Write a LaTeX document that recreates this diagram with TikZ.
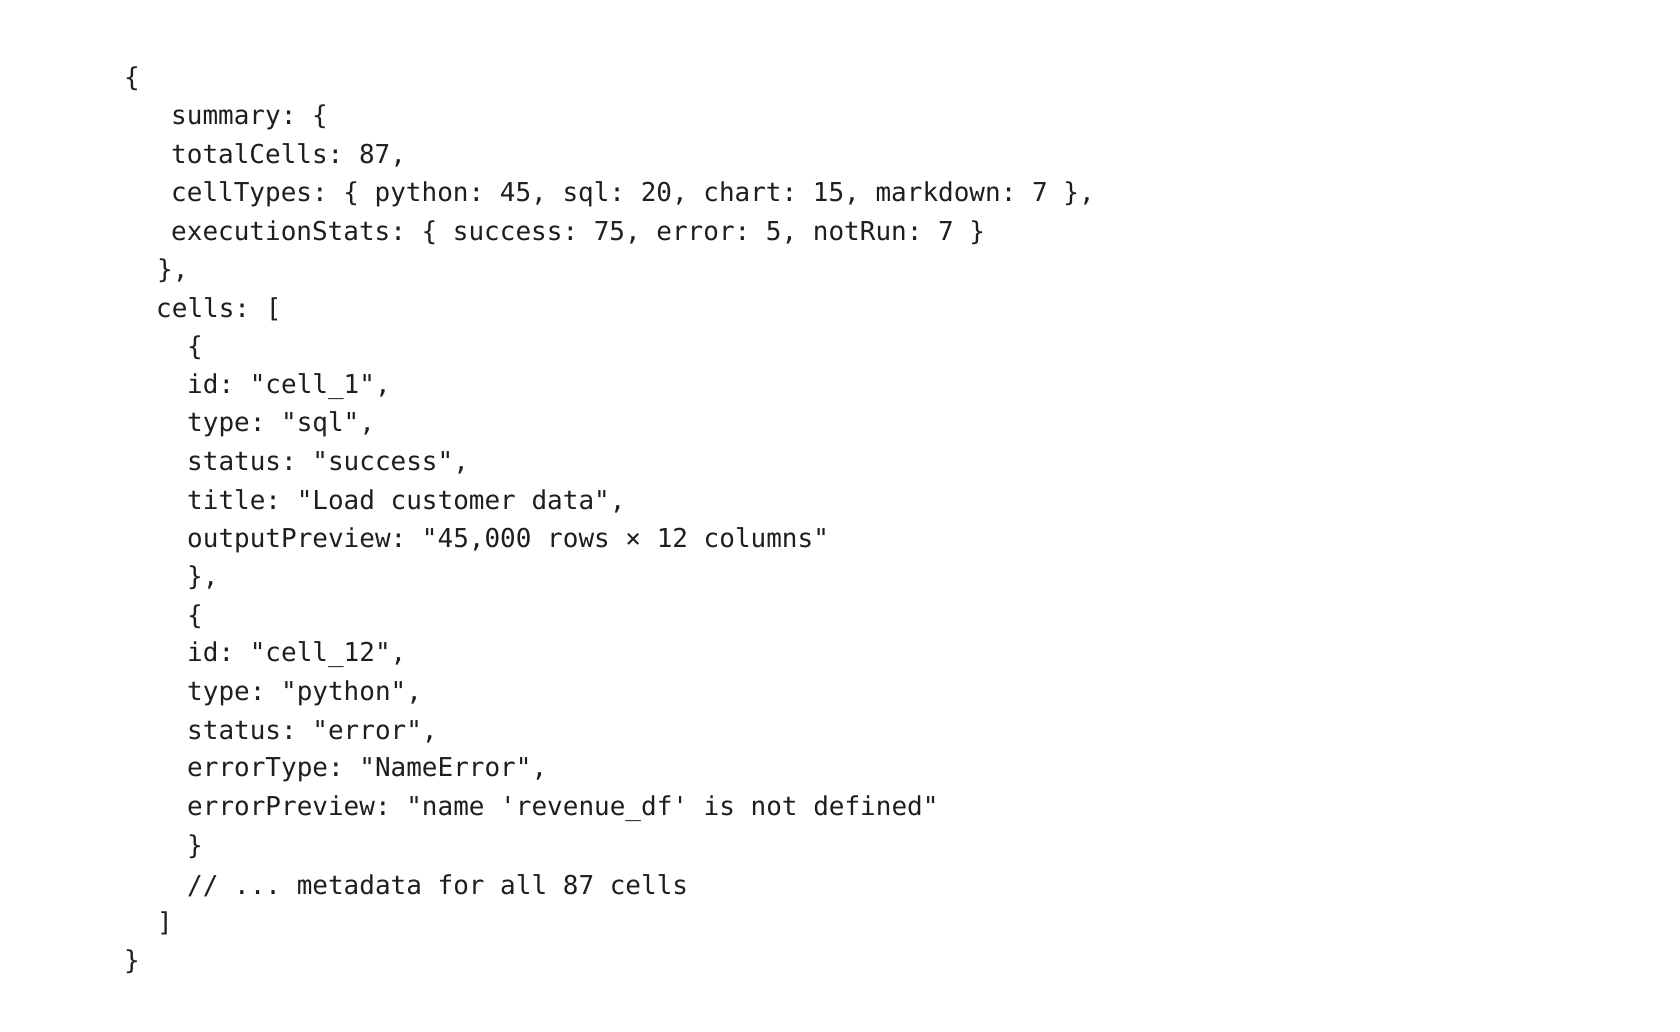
\documentclass[tikz,border=0pt]{standalone}
\usepackage{fontspec}
\setmonofont{DejaVu Sans Mono}
\definecolor{codeink}{HTML}{1E1E1E}
\begin{document}
\begin{tikzpicture}[x=1pt,y=-1pt,
  codeline/.style={anchor=west,inner sep=0pt,font=\ttfamily\fontsize{26}{30}\selectfont,text=codeink}]
\useasboundingbox (0,0) rectangle (1680,1032);
\def\gap{38.4}
\node[codeline] (l1)  at (124,79+0*\gap) {\{};
\node[codeline] (l2)  at (171,79+1*\gap) {summary: \{};
\node[codeline] (l3)  at (171,79+2*\gap) {totalCells: 87,};
\node[codeline] (l4)  at (171,79+3*\gap) {cellTypes: \{ python: 45, sql: 20, chart: 15, markdown: 7 \},};
\node[codeline] (l5)  at (171,79+4*\gap) {executionStats: \{ success: 75, error: 5, notRun: 7 \}};
\node[codeline] (l6)  at (157,79+5*\gap) {\},};
\node[codeline] (l7)  at (156,79+6*\gap) {cells: [};
\node[codeline] (l8)  at (187,79+7*\gap) {\{};
\node[codeline] (l9)  at (187,79+8*\gap) {id: "cell\_1",};
\node[codeline] (l10) at (187,79+9*\gap) {type: "sql",};
\node[codeline] (l11) at (187,79+10*\gap) {status: "success",};
\node[codeline] (l12) at (187,79+11*\gap) {title: "Load customer data",};
\node[codeline] (l13) at (187,79+12*\gap) {outputPreview: "45,000 rows × 12 columns"};
\node[codeline] (l14) at (187,79+13*\gap) {\},};
\node[codeline] (l15) at (187,79+14*\gap) {\{};
\node[codeline] (l16) at (187,79+15*\gap) {id: "cell\_12",};
\node[codeline] (l17) at (187,79+16*\gap) {type: "python",};
\node[codeline] (l18) at (187,79+17*\gap) {status: "error",};
\node[codeline] (l19) at (187,79+18*\gap) {errorType: "NameError",};
\node[codeline] (l20) at (187,79+19*\gap) {errorPreview: "name 'revenue\_df' is not defined"};
\node[codeline] (l21) at (187,79+20*\gap) {\}};
\node[codeline] (l22) at (187,79+21*\gap) {// ... metadata for all 87 cells};
\node[codeline] (l23) at (157,79+22*\gap) {]};
\node[codeline] (l24) at (124,79+23*\gap) {\}};
\end{tikzpicture}
\end{document}
